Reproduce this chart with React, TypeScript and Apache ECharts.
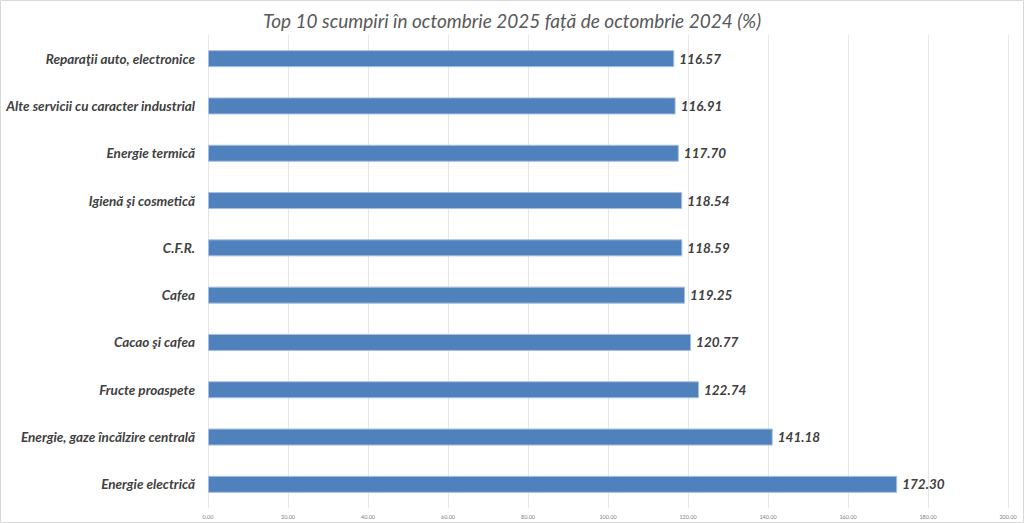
import React, { useEffect, useRef } from "react";
import * as echarts from "echarts";

const categories = [
  "Reparaţii auto, electronice",
  "Alte servicii cu caracter industrial",
  "Energie termică",
  "Igienă şi cosmetică",
  "C.F.R.",
  "Cafea",
  "Cacao şi cafea",
  "Fructe proaspete",
  "Energie, gaze încălzire centrală",
  "Energie electrică",
];
const values = [116.57, 116.91, 117.7, 118.54, 118.59, 119.25, 120.77, 122.74, 141.18, 172.3];
const titleText = "Top 10 scumpiri în octombrie 2025 față de octombrie 2024 (%)";

export default function App() {
  const ref = useRef<HTMLDivElement>(null);
  useEffect(() => {
    document.body.style.margin = "0";
    const chart = echarts.init(ref.current!, null, { renderer: "svg" });
    chart.setOption({
      animation: false,
      backgroundColor: "#ffffff",
      title: {
        text: titleText,
        left: "center",
        top: 6,
        textStyle: {
          fontFamily: "Lato, 'Open Sans', sans-serif",
          fontStyle: "italic",
          fontWeight: "normal",
          fontSize: 19,
          color: "#595959",
        },
      },
      graphic: [
        {
          type: "rect",
          shape: { x: 0.5, y: 0.5, width: 1023, height: 522 },
          style: { fill: "none", stroke: "#d9d9d9", lineWidth: 1 },
          silent: true,
        },
      ],
      grid: { left: 208, right: 16, top: 35, bottom: 15, containLabel: false },
      xAxis: {
        type: "value",
        min: 0,
        max: 200,
        interval: 20,
        axisLine: { show: false },
        axisTick: { show: false },
        splitLine: { show: true, lineStyle: { color: "#e6e6e6", width: 1 } },
        axisLabel: {
          formatter: (v: number) => v.toFixed(2),
          fontSize: 5.5,
          color: "#7f7f7f",
          margin: 6,
          fontFamily: "Lato, sans-serif",
        },
      },
      yAxis: {
        type: "category",
        data: categories,
        inverse: true,
        axisLine: { show: false },
        axisTick: { show: false },
        axisLabel: {
          margin: 13,
          fontSize: 13.5,
          fontStyle: "italic",
          fontWeight: "bold",
          color: "#404040",
          fontFamily: "Lato, 'Open Sans', sans-serif",
        },
      },
      series: [
        {
          type: "bar",
          data: values,
          barWidth: 17,
          itemStyle: { color: "#4F81BD", borderColor: "#a7bfdd", borderWidth: 1 },
          label: {
            show: true,
            position: "right",
            distance: 5,
            formatter: (p: any) => p.value.toFixed(2),
            fontSize: 13.5,
            fontStyle: "italic",
            fontWeight: "bold",
            color: "#404040",
            fontFamily: "Lato, 'Open Sans', sans-serif",
          },
        },
      ],
    });
    return () => chart.dispose();
  }, []);
  return <div ref={ref} style={{ width: 1024, height: 523 }} />;
}
